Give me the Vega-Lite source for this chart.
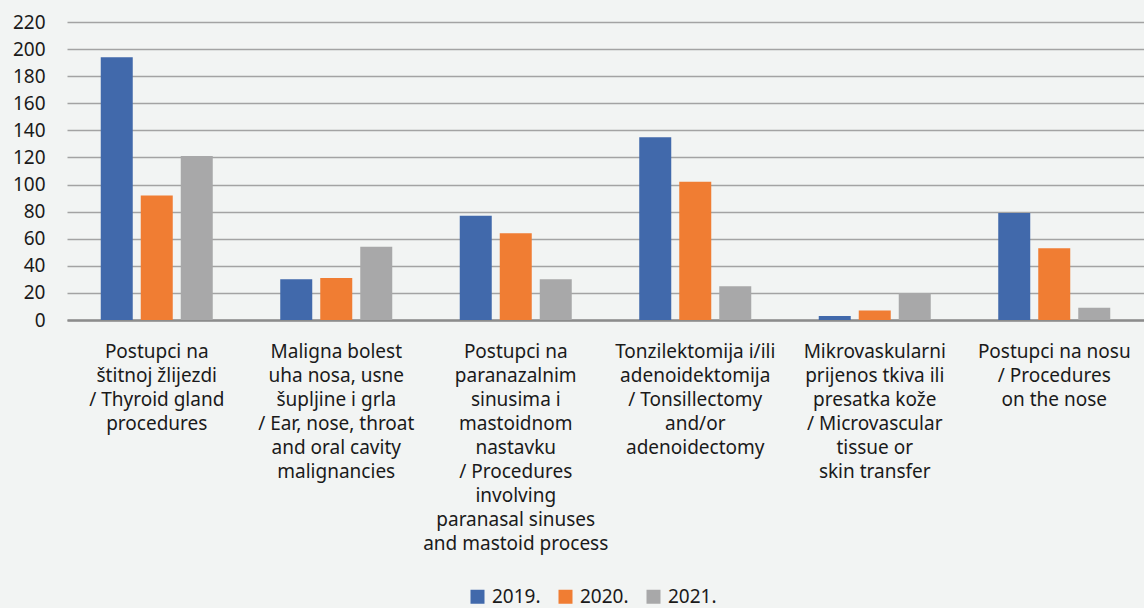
{
  "$schema": "https://vega.github.io/schema/vega-lite/v6.json",
  "autosize": "none",
  "width": 1077,
  "height": 298,
  "padding": {"left": 67, "top": 22, "right": 0, "bottom": 288},
  "background": "#f2f4f3",
  "config": {
    "view": {"stroke": null},
    "font": "Noto Sans"
  },
  "data": {
    "values": [
      {"category": "Postupci na|štitnoj žlijezdi|/ Thyroid gland|procedures", "year": "2019.", "value": 194},
      {"category": "Postupci na|štitnoj žlijezdi|/ Thyroid gland|procedures", "year": "2020.", "value": 92},
      {"category": "Postupci na|štitnoj žlijezdi|/ Thyroid gland|procedures", "year": "2021.", "value": 121},
      {"category": "Maligna bolest|uha nosa, usne|šupljine i grla|/ Ear, nose, throat|and oral cavity|malignancies", "year": "2019.", "value": 30},
      {"category": "Maligna bolest|uha nosa, usne|šupljine i grla|/ Ear, nose, throat|and oral cavity|malignancies", "year": "2020.", "value": 31},
      {"category": "Maligna bolest|uha nosa, usne|šupljine i grla|/ Ear, nose, throat|and oral cavity|malignancies", "year": "2021.", "value": 54},
      {"category": "Postupci na|paranazalnim|sinusima i|mastoidnom|nastavku|/ Procedures|involving|paranasal sinuses|and mastoid process", "year": "2019.", "value": 77},
      {"category": "Postupci na|paranazalnim|sinusima i|mastoidnom|nastavku|/ Procedures|involving|paranasal sinuses|and mastoid process", "year": "2020.", "value": 64},
      {"category": "Postupci na|paranazalnim|sinusima i|mastoidnom|nastavku|/ Procedures|involving|paranasal sinuses|and mastoid process", "year": "2021.", "value": 30},
      {"category": "Tonzilektomija i/ili|adenoidektomija|/ Tonsillectomy|and/or|adenoidectomy", "year": "2019.", "value": 135},
      {"category": "Tonzilektomija i/ili|adenoidektomija|/ Tonsillectomy|and/or|adenoidectomy", "year": "2020.", "value": 102},
      {"category": "Tonzilektomija i/ili|adenoidektomija|/ Tonsillectomy|and/or|adenoidectomy", "year": "2021.", "value": 25},
      {"category": "Mikrovaskularni|prijenos tkiva ili|presatka kože|/ Microvascular|tissue or|skin transfer", "year": "2019.", "value": 3},
      {"category": "Mikrovaskularni|prijenos tkiva ili|presatka kože|/ Microvascular|tissue or|skin transfer", "year": "2020.", "value": 7},
      {"category": "Mikrovaskularni|prijenos tkiva ili|presatka kože|/ Microvascular|tissue or|skin transfer", "year": "2021.", "value": 20},
      {"category": "Postupci na nosu|/ Procedures|on the nose", "year": "2019.", "value": 79},
      {"category": "Postupci na nosu|/ Procedures|on the nose", "year": "2020.", "value": 53},
      {"category": "Postupci na nosu|/ Procedures|on the nose", "year": "2021.", "value": 9}
    ]
  },
  "mark": {"type": "bar"},
  "encoding": {
    "x": {
      "field": "category",
      "type": "nominal",
      "sort": null,
      "scale": {"paddingInner": 0.376, "paddingOuter": 0.188},
      "axis": {
        "title": null,
        "labelExpr": "split(datum.label, '|')",
        "labelAngle": 0,
        "labelLimit": 0,
        "labelFontSize": 19,
        "labelColor": "#1a1a1a",
        "labelLineHeight": 24,
        "labelPadding": 22,
        "labelBaseline": "top",
        "ticks": false,
        "domainColor": "#8c8c8c",
        "domainWidth": 2.5,
        "grid": false
      }
    },
    "xOffset": {
      "field": "year",
      "type": "nominal",
      "scale": {"paddingInner": 0.2, "paddingOuter": 0}
    },
    "y": {
      "field": "value",
      "type": "quantitative",
      "scale": {"domain": [0, 220], "nice": false},
      "axis": {
        "title": null,
        "values": [0, 20, 40, 60, 80, 100, 120, 140, 160, 180, 200, 220],
        "labelFontSize": 19,
        "labelColor": "#1a1a1a",
        "labelPadding": 22,
        "ticks": false,
        "domain": false,
        "grid": true,
        "gridColor": "#a3a3a3",
        "gridWidth": 1.6
      }
    },
    "color": {
      "field": "year",
      "type": "nominal",
      "scale": {"domain": ["2019.", "2020.", "2021."], "range": ["#4169ab", "#f07d33", "#a8a8a9"]},
      "legend": {
        "title": null,
        "orient": "none",
        "direction": "horizontal",
        "legendX": 401,
        "legendY": 565,
        "symbolType": "square",
        "symbolSize": 196,
        "symbolStrokeWidth": 0,
        "labelFontSize": 19,
        "labelColor": "#1a1a1a",
        "labelOffset": 5,
        "columnPadding": 15
      }
    }
  }
}
